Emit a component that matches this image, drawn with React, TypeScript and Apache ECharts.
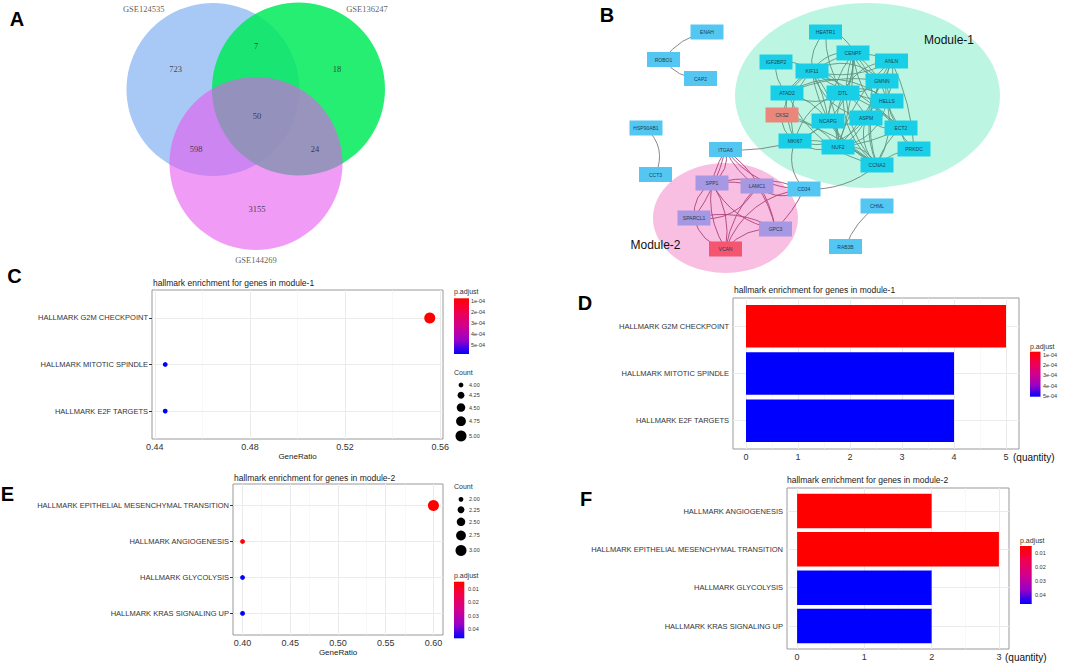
import React, { useEffect, useRef } from "react";
import * as echarts from "echarts";

// ---------------- Panel A : Venn ----------------
const vennSetNames = ["GSE124535", "GSE136247", "GSE144269"];
const vennRegionCounts = [723, 18, 3155, 7, 598, 24, 50];
// layout (pixel units of the panel-A grid)
const vennCircleAt = [[213, 89.5], [298.5, 89], [256, 163.5]];
const vennSetLabelAt = [[143.7, 9], [367, 9], [256, 259.5]];
const vennRegionAt = [[175.5, 69], [337, 69], [257, 209.3], [256, 45.7], [196, 149.3], [315, 149.3], [257, 115.7]];

// ---------------- Panel B : network ----------------
const netNodeNames = ["ENAH", "ROBO1", "CAP2", "HEATR1", "CENPF", "ANLN", "IGF2BP2", "KIF11", "GMNN", "ATAD2", "DTL", "HELLS", "CKS2", "NCAPG", "ASPM", "ECT2", "MKI67", "NUF2", "PRKDC", "CCNA2", "HSP90AB1", "ITGA6", "CCT3", "SPP1", "LAMC1", "CD34", "SPARCL1", "GPC3", "VCAN", "CHML", "RAB3B"];
const netNodeGroups = ["o", "o", "o", "m1", "m1", "m1", "m1", "m1", "m1", "m1", "m1", "m1", "cks", "m1", "m1", "m1", "m1", "m1", "m1", "m1", "o", "o", "o", "m2", "m2", "o", "m2", "m2", "vcan", "o", "o"];
const netNodeAt = [[707, 32], [663.5, 59.5], [700.5, 78.5], [825.5, 32], [853, 53], [891.5, 61], [776, 62], [812, 71], [882, 81], [787, 93], [843, 93], [887, 101], [782, 115], [828, 121], [866, 118], [901, 128], [795, 141], [838, 147], [914, 149], [877, 165], [646, 128], [725.5, 149.5], [655.5, 174.5], [712, 183], [757, 186], [804, 189], [694, 218], [775.5, 229], [725.5, 249], [877, 206], [845.5, 246.5]];
const netEdgesOther = [["ROBO1", "ENAH"], ["ROBO1", "CAP2"], ["HSP90AB1", "CCT3"], ["CHML", "RAB3B"], ["MKI67", "ITGA6"], ["MKI67", "CD34"], ["CCNA2", "CD34"]];
const netEdgesModule2 = [["SPP1", "LAMC1"], ["SPP1", "SPARCL1"], ["SPP1", "VCAN"], ["SPP1", "GPC3"], ["LAMC1", "SPARCL1"], ["LAMC1", "VCAN"], ["LAMC1", "GPC3"], ["SPARCL1", "VCAN"], ["SPARCL1", "GPC3"], ["GPC3", "VCAN"], ["ITGA6", "SPP1"], ["ITGA6", "LAMC1"], ["ITGA6", "SPARCL1"], ["ITGA6", "VCAN"], ["ITGA6", "GPC3"], ["ITGA6", "CD34"], ["CD34", "LAMC1"], ["CD34", "SPP1"], ["CD34", "GPC3"], ["CD34", "VCAN"]];
const netEdgesModule1 = [
  ["HEATR1", "KIF11"], ["HEATR1", "CENPF"], ["HEATR1", "DTL"],
  ["CENPF", "ANLN"], ["CENPF", "KIF11"], ["CENPF", "DTL"], ["CENPF", "GMNN"], ["CENPF", "ASPM"], ["CENPF", "NCAPG"], ["CENPF", "NUF2"], ["CENPF", "CCNA2"], ["CENPF", "HELLS"], ["CENPF", "ECT2"], ["CENPF", "MKI67"], ["CENPF", "ATAD2"],
  ["ANLN", "GMNN"], ["ANLN", "ECT2"], ["ANLN", "KIF11"], ["ANLN", "CCNA2"], ["ANLN", "ASPM"], ["ANLN", "NUF2"], ["ANLN", "PRKDC"], ["ANLN", "DTL"],
  ["IGF2BP2", "KIF11"], ["IGF2BP2", "ATAD2"],
  ["KIF11", "DTL"], ["KIF11", "ATAD2"], ["KIF11", "NCAPG"], ["KIF11", "ASPM"], ["KIF11", "NUF2"], ["KIF11", "CCNA2"], ["KIF11", "GMNN"], ["KIF11", "HELLS"], ["KIF11", "ECT2"], ["KIF11", "MKI67"],
  ["GMNN", "DTL"], ["GMNN", "CCNA2"], ["GMNN", "HELLS"], ["GMNN", "ATAD2"], ["GMNN", "NUF2"],
  ["ATAD2", "DTL"], ["ATAD2", "NCAPG"], ["ATAD2", "CCNA2"], ["ATAD2", "HELLS"], ["ATAD2", "MKI67"], ["ATAD2", "CKS2"],
  ["DTL", "NCAPG"], ["DTL", "ASPM"], ["DTL", "CCNA2"], ["DTL", "HELLS"], ["DTL", "NUF2"], ["DTL", "ECT2"], ["DTL", "MKI67"],
  ["HELLS", "CCNA2"], ["HELLS", "ASPM"], ["HELLS", "NUF2"], ["HELLS", "PRKDC"],
  ["CKS2", "CCNA2"], ["CKS2", "MKI67"], ["CKS2", "NUF2"],
  ["NCAPG", "ASPM"], ["NCAPG", "NUF2"], ["NCAPG", "CCNA2"], ["NCAPG", "MKI67"],
  ["ASPM", "CCNA2"], ["ASPM", "NUF2"], ["ASPM", "ECT2"], ["ASPM", "MKI67"],
  ["ECT2", "CCNA2"], ["ECT2", "NUF2"], ["ECT2", "PRKDC"],
  ["MKI67", "CCNA2"], ["MKI67", "NUF2"], ["NUF2", "CCNA2"], ["PRKDC", "CCNA2"],
];
const moduleEllipseAt = [[867.5, 95.5], [725.5, 218]];

// ---------------- Panel C : dot plot module-1 ----------------
const cCategories = ["HALLMARK G2M CHECKPOINT", "HALLMARK MITOTIC SPINDLE", "HALLMARK E2F TARGETS"];
const cGeneRatio = [0.5556, 0.4444, 0.4444];
const cCount = [5, 4, 4];
const cPadj = [0.000073, 0.000582, 0.000582];
const cTicks = [0.44, 0.48, 0.52, 0.56];
const cMinorTicks = [0.46, 0.5, 0.54];
const cCountBreaks = [4.0, 4.25, 4.5, 4.75, 5.0];
const cPadjBreaks = [0.0001, 0.0002, 0.0003, 0.0004, 0.0005];
const cPadjLabels = ["1e-04", "2e-04", "3e-04", "4e-04", "5e-04"];

// ---------------- Panel D : bar plot module-1 ----------------
const dCategories = ["HALLMARK G2M CHECKPOINT", "HALLMARK MITOTIC SPINDLE", "HALLMARK E2F TARGETS"];
const dCount = [5, 4, 4];
const dPadj = [0.00007, 0.000507, 0.000507];
const dTicks = [0, 1, 2, 3, 4, 5];
const dMinorTicks = [0.5, 1.5, 2.5, 3.5, 4.5];
const dPadjBreaks = [0.0001, 0.0002, 0.0003, 0.0004, 0.0005];
const dPadjLabels = ["1e-04", "2e-04", "3e-04", "4e-04", "5e-04"];

// ---------------- Panel E : dot plot module-2 ----------------
const eCategories = ["HALLMARK EPITHELIAL MESENCHYMAL TRANSITION", "HALLMARK ANGIOGENESIS", "HALLMARK GLYCOLYSIS", "HALLMARK KRAS SIGNALING UP"];
const eGeneRatio = [0.6, 0.4, 0.4, 0.4];
const eCount = [3, 2, 2, 2];
const ePadj = [0.0045, 0.0045, 0.0468, 0.0468];
const eTicks = [0.4, 0.45, 0.5, 0.55, 0.6];
const eMinorTicks = [0.425, 0.475, 0.525, 0.575];
const eCountBreaks = [2.0, 2.25, 2.5, 2.75, 3.0];
const ePadjBreaks = [0.01, 0.02, 0.03, 0.04];
const ePadjLabels = ["0.01", "0.02", "0.03", "0.04"];

// ---------------- Panel F : bar plot module-2 ----------------
const fCategories = ["HALLMARK ANGIOGENESIS", "HALLMARK EPITHELIAL MESENCHYMAL TRANSITION", "HALLMARK GLYCOLYSIS", "HALLMARK KRAS SIGNALING UP"];
const fCount = [2, 3, 2, 2];
const fPadj = [0.0051, 0.0051, 0.0465, 0.0465];
const fTicks = [0, 1, 2, 3];
const fMinorTicks = [0.5, 1.5, 2.5];
const fPadjBreaks = [0.01, 0.02, 0.03, 0.04];
const fPadjLabels = ["0.01", "0.02", "0.03", "0.04"];

// ---------------- styles ----------------
const FONT = "Liberation Sans";
const SERIF = "Liberation Serif";
const TXT = "#333333";
const GRAD = ["#ff0000", "#f00050", "#d1008d", "#9a00c6", "#0000ff"];
const NODE_COLORS: Record<string, string> = { o: "#53c7f1", m1: "#19cfe7", cks: "#e9877b", m2: "#a698e2", vcan: "#f5556f" };
const EDGE_COLORS: Record<string, string> = { x: "#7c7c7c", m1: "#5f9482", m2: "#ad4377" };
const CURV = [0.2, -0.25, 0.35, -0.15, 0.1, -0.3];
const DMIN = 4.8;
const DMAX = 11;

const dotSize = (c: number, lo: number, hi: number) =>
  Math.sqrt(DMIN * DMIN + ((c - lo) / (hi - lo)) * (DMAX * DMAX - DMIN * DMIN));

const expand = (lo: number, hi: number) => {
  const r = hi - lo;
  return [lo - r * 0.05, hi + r * 0.05];
};

function xAxisOf(grid: number, min: number, max: number, ticks: number[], digits: number, name?: string) {
  return {
    type: "value", gridIndex: grid, min, max,
    axisLine: { show: false },
    axisTick: { show: true, customValues: ticks, length: 3, lineStyle: { color: TXT, width: 1 } },
    axisLabel: { customValues: ticks, formatter: (v: number) => v.toFixed(digits), fontSize: 9, color: TXT, margin: 3, fontFamily: FONT },
    splitLine: { show: false },
    name: name || "", nameLocation: "middle", nameGap: 13,
    nameTextStyle: { fontSize: 8, color: "#222", fontFamily: FONT },
  };
}

function yAxisOf(grid: number, cats: string[]) {
  const idx = cats.map((_, i) => i);
  return {
    type: "value", gridIndex: grid, min: -0.6, max: cats.length - 0.4, inverse: true,
    axisLine: { show: false },
    axisTick: { show: true, customValues: idx, length: 3, lineStyle: { color: TXT, width: 1 } },
    axisLabel: { customValues: idx, formatter: (v: number) => cats[Math.round(v)] || "", fontSize: 7.5, color: TXT, margin: 4, fontFamily: FONT },
    splitLine: { show: false },
  };
}

function gridLineSeries(grid: number, major: number[], minor: number[], cats: string[]) {
  const maj = { color: "#ebebeb", width: 1, type: "solid" };
  const min = { color: "#f4f4f4", width: 0.6, type: "solid" };
  return {
    type: "scatter", xAxisIndex: grid, yAxisIndex: grid, data: [], z: 1, silent: true,
    markLine: {
      z: 1, zlevel: 0,
      silent: true, symbol: ["none", "none"], label: { show: false },
      data: [
        ...minor.map((v) => ({ xAxis: v, lineStyle: min })),
        ...major.map((v) => ({ xAxis: v, lineStyle: maj })),
        ...cats.map((_, i) => ({ yAxis: i, lineStyle: maj })),
      ],
    },
  };
}

const barRender = (_p: any, api: any) => {
  const v = api.value(0);
  const i = api.value(1);
  const p0 = api.coord([0, i]);
  const p1 = api.coord([v, i]);
  const h = api.size([0, 0.9])[1];
  return {
    type: "rect",
    shape: { x: p0[0], y: p0[1] - h / 2, width: p1[0] - p0[0], height: h },
    style: { fill: api.visual("color") },
  };
};

function txt(x: number, y: number, text: string, size: number, opts: any = {}) {
  return {
    type: "text", x, y, silent: true, z: 100,
    style: {
      text, fontSize: size, fontFamily: opts.family || FONT, fontWeight: opts.weight || "normal",
      fill: opts.color || TXT, align: opts.align || "left", verticalAlign: "middle",
    },
  };
}

function colorbar(x: number, y: number, w: number, h: number, lo: number, hi: number, breaks: number[], labels: string[], labelX: number, titleY: number) {
  const els: any[] = [txt(x, titleY, "p.adjust", 7)];
  els.push({
    type: "rect", silent: true, z: 100, shape: { x, y, width: w, height: h },
    style: { fill: { type: "linear", x: 0, y: 0, x2: 0, y2: 1, colorStops: GRAD.map((c, i) => ({ offset: i / (GRAD.length - 1), color: c })) } },
  });
  breaks.forEach((b, i) => {
    const yy = y + ((b - lo) / (hi - lo)) * h;
    els.push(txt(labelX, yy, labels[i], 5.5));
  });
  return els;
}

function countLegend(x: number, titleY: number, y0: number, breaks: number[], lo: number, hi: number, labelX: number) {
  const els: any[] = [txt(x - 7, titleY, "Count", 7)];
  let y = y0;
  breaks.forEach((b, i) => {
    const d = dotSize(b, lo, hi);
    if (i > 0) y += (dotSize(breaks[i - 1], lo, hi) + d) / 2 + 4.5;
    els.push({ type: "circle", silent: true, z: 100, shape: { cx: x, cy: y, r: d / 2 }, style: { fill: "#000" } });
    els.push(txt(labelX, y, b.toFixed(2), 5.5));
  });
  return els;
}

function buildOption() {
  const series: any[] = [];
  const vennColors = ["#a8c8f5", "rgb(0,235,90)", "rgb(230,88,238)"];
  const vennOpacity = [1, 0.85, 0.6];
  vennSetNames.forEach((_, i) => {
    series.push({
      type: "scatter", xAxisIndex: 0, yAxisIndex: 0, silent: true, z: 2,
      data: [vennCircleAt[i]], symbolSize: 173,
      itemStyle: { color: vennColors[i], opacity: vennOpacity[i] },
    });
  });
  series.push({
    type: "scatter", xAxisIndex: 0, yAxisIndex: 0, silent: true, z: 3, symbolSize: 1,
    itemStyle: { color: "rgba(0,0,0,0)" },
    data: vennSetNames.map((n, i) => ({ name: n, value: vennSetLabelAt[i] })),
    label: { show: true, position: "inside", formatter: "{b}", fontFamily: SERIF, fontSize: 8.5, color: "#333" },
  });
  series.push({
    type: "scatter", xAxisIndex: 0, yAxisIndex: 0, silent: true, z: 3, symbolSize: 1,
    itemStyle: { color: "rgba(0,0,0,0)" },
    data: vennRegionCounts.map((c, i) => ({ value: [vennRegionAt[i][0], vennRegionAt[i][1], c] })),
    label: { show: true, position: "inside", formatter: (p: any) => String(p.value[2]), fontFamily: SERIF, fontSize: 8.5, color: "#222" },
  });

  // network
  const ellSizes = [[265, 185], [145, 110]];
  const ellColors = ["#bcf6e3", "#f9bfe2"];
  moduleEllipseAt.forEach((c, i) => {
    series.push({
      type: "scatter", xAxisIndex: 1, yAxisIndex: 1, silent: true, z: 1,
      data: [c], symbolSize: ellSizes[i], itemStyle: { color: ellColors[i], opacity: 1 },
    });
  });
  const links: any[] = [];
  const addEdges = (list: string[][], kind: string) => {
    list.forEach(([s, t]) => {
      links.push({
        source: s, target: t,
        lineStyle: { color: EDGE_COLORS[kind], width: 1, opacity: 0.9, curveness: CURV[links.length % CURV.length] },
      });
    });
  };
  addEdges(netEdgesOther, "x");
  addEdges(netEdgesModule1, "m1");
  addEdges(netEdgesModule2, "m2");
  series.push({
    type: "graph", coordinateSystem: "cartesian2d", xAxisIndex: 1, yAxisIndex: 1, silent: true, z: 3,
    symbol: "rect", symbolSize: [33, 15], edgeSymbol: ["none", "none"],
    data: netNodeNames.map((n, i) => ({ name: n, value: netNodeAt[i], itemStyle: { color: NODE_COLORS[netNodeGroups[i]], opacity: 1 } })),
    links,
    label: { show: true, position: "inside", fontSize: 5, color: "#1a3f55", fontFamily: FONT },
  });

  // C
  series.push(gridLineSeries(2, cTicks, cMinorTicks, cCategories));
  const cIdx = series.length;
  series.push({
    type: "scatter", xAxisIndex: 2, yAxisIndex: 2, z: 3, silent: true,
    itemStyle: { opacity: 1 },
    data: cCategories.map((_, i) => [cGeneRatio[i], i, cCount[i], cPadj[i]]),
    symbolSize: (v: number[]) => dotSize(v[2], 4, 5),
  });
  // D
  series.push(gridLineSeries(3, dTicks, dMinorTicks, dCategories));
  const dIdx = series.length;
  series.push({
    type: "custom", xAxisIndex: 3, yAxisIndex: 3, z: 3, silent: true,
    data: dCategories.map((_, i) => [dCount[i], i, dPadj[i]]),
    encode: { x: 0, y: 1 }, renderItem: barRender,
  });
  // E
  series.push(gridLineSeries(4, eTicks, eMinorTicks, eCategories));
  const eIdx = series.length;
  series.push({
    type: "scatter", xAxisIndex: 4, yAxisIndex: 4, z: 3, silent: true,
    itemStyle: { opacity: 1 },
    data: eCategories.map((_, i) => [eGeneRatio[i], i, eCount[i], ePadj[i]]),
    symbolSize: (v: number[]) => dotSize(v[2], 2, 3),
  });
  // F
  series.push(gridLineSeries(5, fTicks, fMinorTicks, fCategories));
  const fIdx = series.length;
  series.push({
    type: "custom", xAxisIndex: 5, yAxisIndex: 5, z: 3, silent: true,
    data: fCategories.map((_, i) => [fCount[i], i, fPadj[i]]),
    encode: { x: 0, y: 1 }, renderItem: barRender,
  });

  const cR = [Math.min(...cPadj), Math.max(...cPadj)];
  const dR = [Math.min(...dPadj), Math.max(...dPadj)];
  const eR = [Math.min(...ePadj), Math.max(...ePadj)];
  const fR = [Math.min(...fPadj), Math.max(...fPadj)];
  const vm = (si: number, dim: number, r: number[]) => ({
    type: "continuous", show: false, seriesIndex: si, dimension: dim, min: r[0], max: r[1], inRange: { color: GRAD },
  });

  const cX = expand(Math.min(...cGeneRatio), Math.max(...cGeneRatio));
  const eX = expand(Math.min(...eGeneRatio), Math.max(...eGeneRatio));
  const dX = expand(0, Math.max(...dCount));
  const fX = expand(0, Math.max(...fCount));

  const panelGrid = { show: true, borderColor: "#999999", borderWidth: 1, backgroundColor: "#ffffff", outerBoundsMode: "none" };

  const graphic: any[] = [
    txt(17, 19, "A", 20, { weight: "bold", color: "#000", align: "center" }),
    txt(607, 15, "B", 20, { weight: "bold", color: "#000", align: "center" }),
    txt(14.5, 276, "C", 20, { weight: "bold", color: "#000", align: "center" }),
    txt(585, 303, "D", 20, { weight: "bold", color: "#000", align: "center" }),
    txt(7.5, 494, "E", 20, { weight: "bold", color: "#000", align: "center" }),
    txt(586, 499, "F", 20, { weight: "bold", color: "#000", align: "center" }),
    txt(949, 40, "Module-1", 12, { color: "#111", align: "center" }),
    txt(655.5, 245, "Module-2", 12, { color: "#111", align: "center" }),
    txt(153, 282.7, "hallmark enrichment for genes in module-1", 8.5, { color: "#222" }),
    txt(734, 290, "hallmark enrichment for genes in module-1", 8.5, { color: "#222" }),
    txt(234, 477.7, "hallmark enrichment for genes in module-2", 8.5, { color: "#222" }),
    txt(787, 480, "hallmark enrichment for genes in module-2", 8.5, { color: "#222" }),
    txt(1013, 457, "(quantity)", 10, { color: "#111" }),
    txt(1005, 657, "(quantity)", 10, { color: "#111" }),
    ...colorbar(454, 298.3, 15, 55.7, cR[0], cR[1], cPadjBreaks, cPadjLabels, 471, 291.7),
    ...countLegend(461, 372.7, 385, cCountBreaks, 4, 5, 469),
    ...colorbar(1030, 351.7, 10.5, 45, dR[0], dR[1], dPadjBreaks, dPadjLabels, 1043, 346.7),
    ...countLegend(461, 486.7, 499.3, eCountBreaks, 2, 3, 469),
    ...colorbar(454, 581.7, 10.3, 56.6, eR[0], eR[1], ePadjBreaks, ePadjLabels, 468, 575.7),
    ...colorbar(1020, 546, 11.7, 58, fR[0], fR[1], fPadjBreaks, fPadjLabels, 1035, 540),
  ];

  return {
    animation: false,
    backgroundColor: "#ffffff",
    textStyle: { fontFamily: FONT },
    grid: [
      { left: 0, top: 0, width: 540, height: 280, show: false, outerBoundsMode: "none" },
      { left: 600, top: 0, width: 465, height: 290, show: false, outerBoundsMode: "none" },
      { left: 152, top: 290, width: 291, height: 149, ...panelGrid },
      { left: 733, top: 298, width: 286, height: 151, ...panelGrid },
      { left: 233, top: 484, width: 210, height: 151, ...panelGrid },
      { left: 787, top: 488, width: 222, height: 161, ...panelGrid },
    ],
    xAxis: [
      { type: "value", gridIndex: 0, min: 0, max: 540, show: false },
      { type: "value", gridIndex: 1, min: 600, max: 1065, show: false },
      xAxisOf(2, cX[0], cX[1], cTicks, 2, "GeneRatio"),
      xAxisOf(3, dX[0], dX[1], dTicks, 0),
      xAxisOf(4, eX[0], eX[1], eTicks, 2, "GeneRatio"),
      xAxisOf(5, fX[0], fX[1], fTicks, 0),
    ],
    yAxis: [
      { type: "value", gridIndex: 0, min: 0, max: 280, inverse: true, show: false },
      { type: "value", gridIndex: 1, min: 0, max: 290, inverse: true, show: false },
      yAxisOf(2, cCategories),
      yAxisOf(3, dCategories),
      yAxisOf(4, eCategories),
      yAxisOf(5, fCategories),
    ],
    visualMap: [vm(cIdx, 3, cR), vm(dIdx, 2, dR), vm(eIdx, 3, eR), vm(fIdx, 2, fR)],
    series,
    graphic,
  };
}

export default function App() {
  const ref = useRef<HTMLDivElement>(null);
  useEffect(() => {
    document.body.style.margin = "0";
    if (!ref.current) return;
    const chart = echarts.init(ref.current, undefined, { renderer: "svg" });
    chart.setOption(buildOption() as any);
    return () => chart.dispose();
  }, []);
  return <div ref={ref} style={{ width: 1065, height: 665 }} />;
}
